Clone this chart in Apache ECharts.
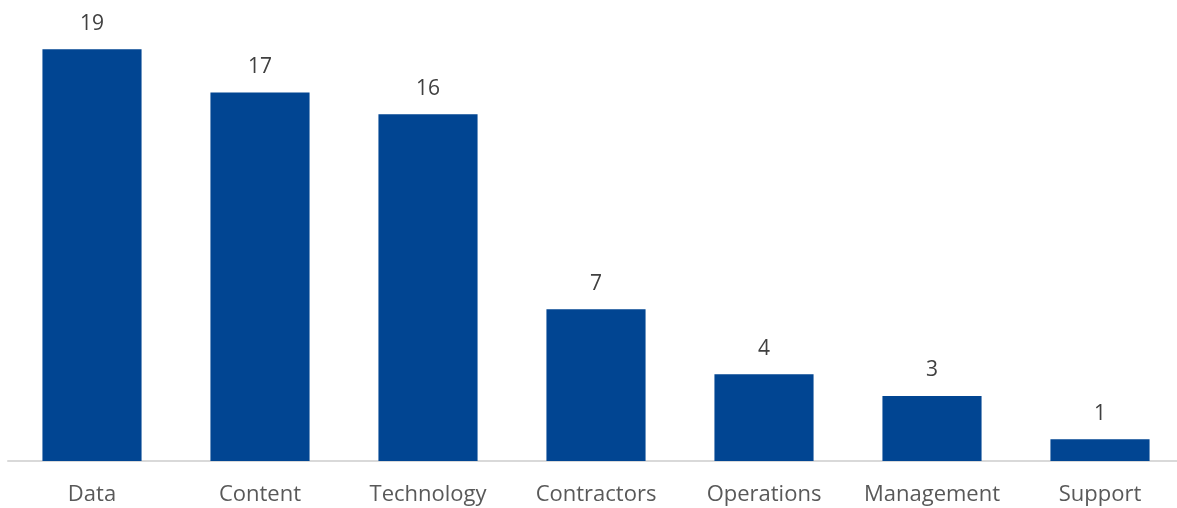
<!DOCTYPE html>
<html>
<head>
<meta charset="utf-8">
<script src="https://cdn.jsdelivr.net/npm/echarts@6/dist/echarts.min.js"></script>
<style>
  html, body { margin: 0; padding: 0; background: #ffffff; overflow: hidden; }
  #chart { width: 1184px; height: 508px; }
</style>
</head>
<body>
<div id="chart"></div>
<script>
// Headcount by team
const categories = ['Data', 'Content', 'Technology', 'Contractors', 'Operations', 'Management', 'Support'];
const values = [19, 17, 16, 7, 4, 3, 1];

const chart = echarts.init(document.getElementById('chart'), null, { renderer: 'canvas' });
const fontFamily = '"Open Sans", sans-serif';

chart.setOption({
  animation: false,
  backgroundColor: '#ffffff',
  grid: { left: 8, right: 0, top: 27.6, bottom: 47, containLabel: false },
  xAxis: {
    type: 'category',
    data: categories,
    axisTick: { show: false },
    axisLine: { lineStyle: { color: '#d9d9d9', width: 2 } },
    axisLabel: {
      interval: 0,
      hideOverlap: false,
      color: '#595959',
      fontSize: 22,
      fontFamily: fontFamily,
      margin: 23
    }
  },
  yAxis: {
    type: 'value',
    min: 0,
    max: 20,
    show: false,
    splitLine: { show: false }
  },
  series: [{
    type: 'bar',
    data: values,
    barWidth: '59%',
    itemStyle: { color: '#014592' },
    label: {
      show: true,
      position: 'top',
      distance: 15,
      color: '#404040',
      fontSize: 21,
      fontFamily: fontFamily
    }
  }]
});
</script>
</body>
</html>
